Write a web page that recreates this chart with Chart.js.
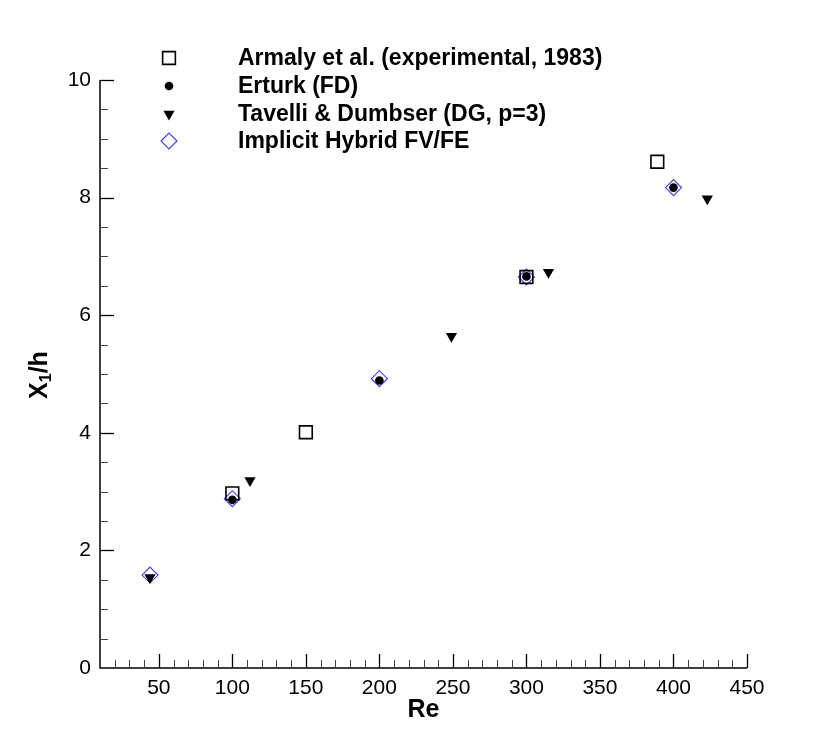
<!DOCTYPE html>
<html>
<head>
<meta charset="utf-8">
<script src="https://cdn.jsdelivr.net/npm/chart.js@4.4.0/dist/chart.umd.min.js"></script>
<style>
html,body{margin:0;padding:0;background:#fff;}
#wrap{width:837px;height:742px;position:relative;}
</style>
</head>
<body>
<div id="wrap"><canvas id="c" width="837" height="742"></canvas></div>
<script>
// ---- data ----
const armalyRe = [100, 150, 300, 389];
const armalyX  = [2.97, 4.01, 6.65, 8.61];
const erturkRe = [100, 200, 300, 400];
const erturkX  = [2.86, 4.89, 6.66, 8.17];
const tavelliRe = [44, 112, 249, 315, 423];
const tavelliX  = [1.54, 3.19, 5.64, 6.73, 7.98];
const hybridRe = [44, 100, 200, 300, 400];
const hybridX  = [1.58, 2.88, 4.92, 6.65, 8.17];
const xTickLabels = [50, 100, 150, 200, 250, 300, 350, 400, 450];
const yTickLabels = [0, 2, 4, 6, 8, 10];
const legendLabels = ['Armaly et al. (experimental, 1983)', 'Erturk (FD)', 'Tavelli & Dumbser (DG, p=3)', 'Implicit Hybrid FV/FE'];

const pts = (xs, ys) => xs.map((x, i) => ({x: x, y: ys[i]}));
const FONT = '"Liberation Sans", Arial, Helvetica, sans-serif';

const datasets = [
  {label: legendLabels[0], data: pts(armalyRe, armalyX), pointStyle: 'rect', pointRadius: 9,
   borderColor: '#000', backgroundColor: 'rgba(0,0,0,0)', borderWidth: 1.6, order: 3},
  {label: legendLabels[1], data: pts(erturkRe, erturkX), pointStyle: 'circle', pointRadius: 4.3,
   borderColor: '#000', backgroundColor: '#000', borderWidth: 0, order: 1},
  {label: legendLabels[2], data: pts(tavelliRe, tavelliX), pointStyle: 'triangle', rotation: 180, pointRadius: 6.5,
   borderColor: '#000', backgroundColor: '#000', borderWidth: 0, order: 2},
  {label: legendLabels[3], data: pts(hybridRe, hybridX), pointStyle: 'rectRot', pointRadius: 8,
   borderColor: '#3b3bff', backgroundColor: 'rgba(0,0,0,0)', borderWidth: 1.1, order: 4}
];

const decor = {
  id: 'decor',
  afterDraw(chart) {
    const ctx = chart.ctx;
    const xs = chart.scales.x, ys = chart.scales.y;
    const a = chart.chartArea;
    ctx.save();
    // axes lines
    ctx.strokeStyle = '#000';
    ctx.lineWidth = 1.5;
    ctx.beginPath();
    ctx.moveTo(a.left, a.top); ctx.lineTo(a.left, a.bottom); ctx.lineTo(a.right, a.bottom);
    ctx.stroke();
    // x ticks (inward)
    for (let v = 20; v <= 450; v += 10) {
      const px = Math.round(xs.getPixelForValue(v)) + 0.5;
      const major = v % 50 === 0;
      ctx.lineWidth = major ? 1.3 : 1;
      ctx.strokeStyle = major ? '#000' : '#444';
      ctx.beginPath(); ctx.moveTo(px, a.bottom); ctx.lineTo(px, a.bottom - (major ? 14 : 8)); ctx.stroke();
    }
    // y ticks (inward)
    for (let k = 1; k <= 20; k++) {
      const v = k * 0.5;
      const py = Math.round(ys.getPixelForValue(v)) + 0.5;
      const major = k % 4 === 0;
      ctx.lineWidth = major ? 1.3 : 1;
      ctx.strokeStyle = major ? '#000' : '#444';
      ctx.beginPath(); ctx.moveTo(a.left, py); ctx.lineTo(a.left + (major ? 14 : 8), py); ctx.stroke();
    }
    // axis titles
    ctx.fillStyle = '#000';
    ctx.textBaseline = 'middle';
    ctx.textAlign = 'center';
    ctx.font = 'bold 25px ' + FONT;
    ctx.fillText('Re', (a.left + a.right) / 2, 710);
    // y title with subscript
    ctx.save();
    ctx.translate(40, 375);
    ctx.rotate(-Math.PI / 2);
    ctx.textAlign = 'left';
    ctx.font = 'bold 25px ' + FONT;
    const wX = ctx.measureText('X').width;
    ctx.font = 'bold 16px ' + FONT;
    const w1 = ctx.measureText('1').width;
    ctx.font = 'bold 25px ' + FONT;
    const wH = ctx.measureText('/h').width;
    let x0 = -(wX + w1 + wH) / 2;
    ctx.fillText('X', x0, 0);
    ctx.font = 'bold 16px ' + FONT;
    ctx.fillText('1', x0 + wX, 7);
    ctx.font = 'bold 25px ' + FONT;
    ctx.fillText('/h', x0 + wX + w1, 0);
    ctx.restore();
    // legend
    const rows = [58, 86, 114, 141];
    chart.data.datasets.forEach((ds, i) => {
      const y = rows[i];
      ctx.save();
      ctx.strokeStyle = ds.borderColor;
      ctx.fillStyle = ds.backgroundColor;
      ctx.lineWidth = ds.borderWidth;
      Chart.helpers.drawPoint(ctx, {pointStyle: ds.pointStyle, radius: ds.pointRadius, rotation: ds.rotation || 0, borderWidth: ds.borderWidth}, 169, y);
      ctx.restore();
      ctx.fillStyle = '#000';
      ctx.textAlign = 'left';
      ctx.textBaseline = 'middle';
      ctx.font = 'bold 23px ' + FONT;
      ctx.fillText(ds.label, 238, y + 1);
    });
    ctx.restore();
  }
};

new Chart(document.getElementById('c'), {
  type: 'scatter',
  data: {datasets: datasets},
  options: {
    responsive: false,
    animation: false,
    devicePixelRatio: 1,
    layout: {padding: {left: 0, top: 80, right: 90, bottom: 0}},
    plugins: {legend: {display: false}, tooltip: {enabled: false}},
    elements: {point: {hoverRadius: 0}},
    clip: false,
    scales: {
      x: {
        type: 'linear', min: 10, max: 450,
        grid: {display: false, drawTicks: false},
        border: {display: false},
        afterFit(s) { s.height = 74; },
        afterBuildTicks(s) { s.ticks = xTickLabels.map(v => ({value: v})); },
        ticks: {padding: 8, color: '#000', font: {family: FONT, size: 21}, maxRotation: 0, autoSkip: false}
      },
      y: {
        type: 'linear', min: 0, max: 10,
        grid: {display: false, drawTicks: false},
        border: {display: false},
        afterFit(s) { s.width = 100; },
        afterBuildTicks(s) { s.ticks = yTickLabels.map(v => ({value: v})); },
        ticks: {padding: 9, color: '#000', font: {family: FONT, size: 21}, autoSkip: false}
      }
    }
  },
  plugins: [decor]
});
</script>
</body>
</html>
